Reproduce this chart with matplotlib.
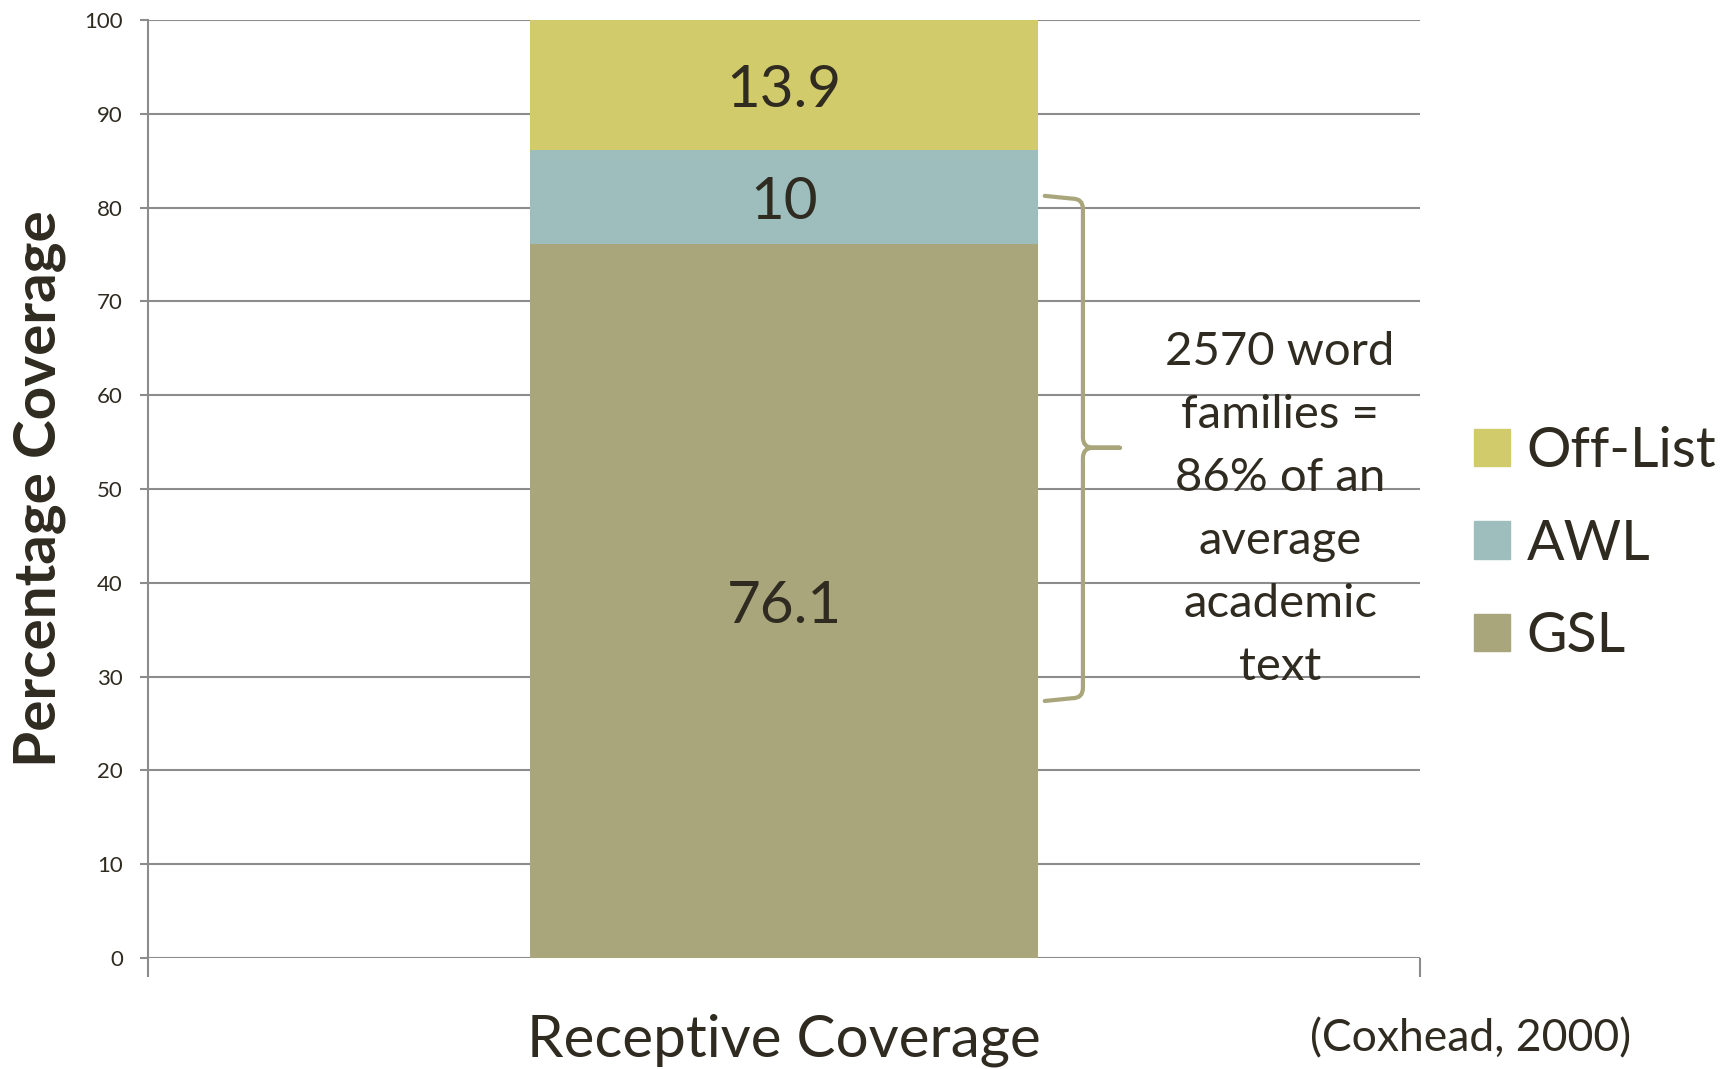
import matplotlib.pyplot as plt
from matplotlib.patches import Rectangle, PathPatch
from matplotlib.path import Path

# Vocabulary coverage of academic text (Coxhead, 2000)
category = "Receptive Coverage"
series = ["GSL", "AWL", "Off-List"]
values = [76.1, 10, 13.9]
colors = ["#A9A67B", "#9DBEBD", "#D2CB6C"]
yticks = [0, 10, 20, 30, 40, 50, 60, 70, 80, 90, 100]
note = "2570 word\nfamilies =\n86% of an\naverage\nacademic\ntext"
source = "(Coxhead, 2000)"

TEXT = "#2F2B20"
GRID = "#8C8C8C"
plt.rcParams["font.family"] = ["Lato", "DejaVu Sans"]

fig = plt.figure(figsize=(17.21, 10.69), dpi=100)
ax = fig.add_axes([148 / 1721, 111 / 1069, 1272 / 1721, 938 / 1069])

# stacked bar segments with value labels
bottom = 0
for name, val, col in zip(series, values, colors):
    ax.bar(0, val, width=0.4, bottom=bottom, color=col, zorder=2)
    ax.text(0, bottom + val / 2 - 0.6, f"{val:g}", ha="center", va="center",
            fontsize=42, color=TEXT, zorder=3)
    bottom += val

ax.set_xlim(-0.5, 0.5)
ax.set_ylim(0, 100)
ax.set_yticks(yticks)
ax.grid(axis="y", color=GRID, linewidth=1.5, zorder=0)
ax.set_axisbelow(True)
for s in ["top", "right", "bottom"]:
    ax.spines[s].set_visible(False)
ax.spines["left"].set_color(GRID)
ax.spines["left"].set_linewidth(1.5)
ax.tick_params(axis="y", length=6, width=1.5, color=GRID, pad=12,
               labelsize=16, labelcolor=TEXT)

# category label in the middle, boundary tick marks at the edges
ax.set_xticks([0], [category])
ax.set_xticks([-0.5, 0.5], minor=True)
ax.tick_params(axis="x", which="major", length=0, pad=40,
               labelsize=42, labelcolor=TEXT)
ax.tick_params(axis="x", which="minor", length=14, width=1.5, color=GRID)

ax.set_ylabel("Percentage Coverage", fontsize=42, fontweight="bold", color=TEXT)
ax.yaxis.set_label_coords(-0.0645, 0.5)

# curly brace next to GSL + AWL
xl, xm, xt = 0.205, 0.235, 0.264
yt, yb, ym = 80.95, 27.7, 54.4
dx, dy = 0.008, 1.1
verts = [
    (xl, yt + 0.3), (xm - dx, yt), (xm, yt), (xm, yt - dy),
    (xm, ym + dy), (xm, ym), (xm + dx, ym), (xt, ym),
    (xm + dx, ym), (xm, ym), (xm, ym - dy),
    (xm, yb + dy), (xm, yb), (xm - dx, yb), (xl, yb - 0.3),
]
codes = [
    Path.MOVETO, Path.LINETO, Path.CURVE3, Path.CURVE3,
    Path.LINETO, Path.CURVE3, Path.CURVE3, Path.LINETO,
    Path.LINETO, Path.CURVE3, Path.CURVE3,
    Path.LINETO, Path.CURVE3, Path.CURVE3, Path.LINETO,
]
ax.add_patch(PathPatch(Path(verts, codes), fill=False, edgecolor="#A9A67B",
                       linewidth=3, clip_on=False, zorder=3,
                       capstyle="round", joinstyle="round"))
ax.text(0.39, 47.8, note, ha="center", va="center", fontsize=34,
        color=TEXT, linespacing=1.62, zorder=3)

# legend, top to bottom
handles = [Rectangle((0, 0), 1, 1, color=c) for c in colors[::-1]]
fig.legend(handles, series[::-1], loc="center left",
           bbox_to_anchor=(1474 / 1721, 1 - 544 / 1069), frameon=False,
           fontsize=40, handlelength=0.65, handleheight=0.65,
           handletextpad=0.3, labelspacing=0.75, borderpad=0,
           borderaxespad=0, labelcolor=TEXT)

fig.text(1471 / 1721, 30 / 1069, source, ha="center", va="center",
         fontsize=32, color=TEXT)

fig.savefig("out.png", dpi=100, facecolor="white")
